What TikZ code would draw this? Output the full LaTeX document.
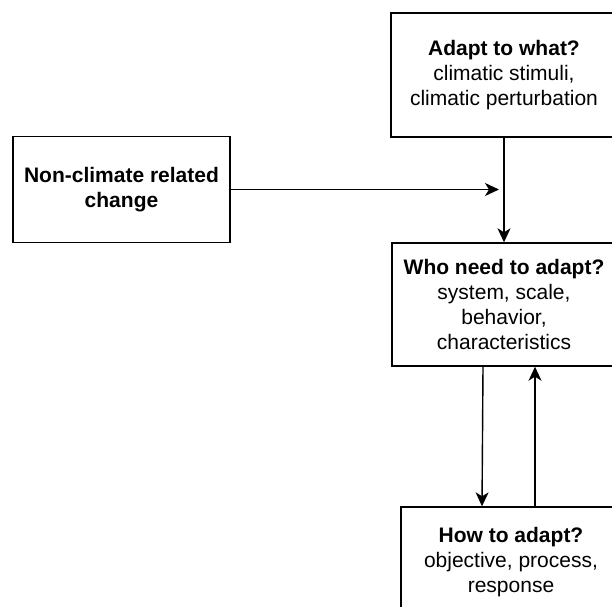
\documentclass[tikz,border=0pt]{standalone}
\usepackage{fontspec}
\setmainfont{Liberation Sans}
\usetikzlibrary{positioning, arrows.meta, calc}

\begin{document}
\begin{tikzpicture}[x=1pt, y=-1pt,
        box/.style={draw, line width=1.4pt, inner sep=0pt, align=center,
            font=\fontsize{21}{25}\selectfont},
        flow/.style={line width=1.4pt, -{Stealth[length=14pt, width=13pt, inset=4pt]}}]
        \clip (0,0) rectangle (612,606);
        \node[box, minimum width=226pt, minimum height=124pt] (what) at (504,75)
            {\textbf{Adapt to what?}\\climatic stimuli,\\climatic perturbation};
        \node[box, minimum width=217pt, minimum height=106pt] (change) at (121.5,189.5)
            {\textbf{Non-climate related}\\\textbf{change}};
        \node[box, minimum width=224pt, minimum height=123pt] (who) at (504,304.5)
            {\textbf{Who need to adapt?}\\system, scale,\\behavior,\\characteristics};
        \node[box, minimum width=220pt, minimum height=110pt] (how) at (511,562)
            {\textbf{How to adapt?}\\objective, process,\\response};
        \coordinate (meet) at (change.east -| what.south);
        \draw[flow, shorten >=5pt] (change.east) -- (meet);
        \draw[flow] (what.south) -- (who.north);
        \draw[flow] ($(who.south)+(-21,0)$) -- ($(how.north)+(-29,0)$);
        \draw[flow] ($(how.north)+(24,0)$) -- ($(who.south)+(31,0)$);
    \end{tikzpicture}
\end{document}
